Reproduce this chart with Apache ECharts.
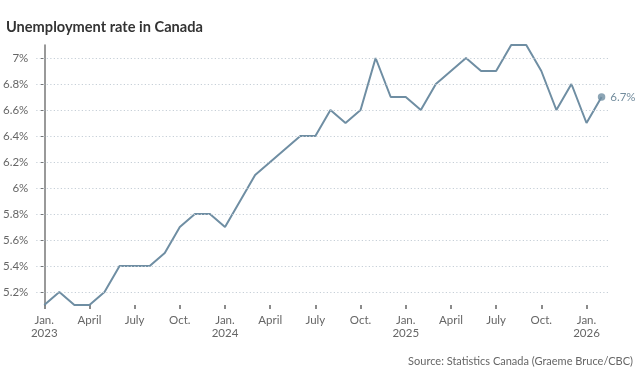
<!DOCTYPE html>
<html><head><meta charset="utf-8">
<script src="https://cdn.jsdelivr.net/npm/echarts@6/dist/echarts.min.js"></script>
<style>html,body{margin:0;padding:0;background:#fff}#c{width:640px;height:372px}</style>
</head><body><div id="c"></div>
<script>
const months = ["2023-01","2023-02","2023-03","2023-04","2023-05","2023-06","2023-07","2023-08","2023-09","2023-10","2023-11","2023-12",
"2024-01","2024-02","2024-03","2024-04","2024-05","2024-06","2024-07","2024-08","2024-09","2024-10","2024-11","2024-12",
"2025-01","2025-02","2025-03","2025-04","2025-05","2025-06","2025-07","2025-08","2025-09","2025-10","2025-11","2025-12",
"2026-01","2026-02"];
const rates = [5.1,5.2,5.1,5.1,5.2,5.4,5.4,5.4,5.5,5.7,5.8,5.8,
5.7,5.9,6.1,6.2,6.3,6.4,6.4,6.6,6.5,6.6,7.0,6.7,
6.7,6.6,6.8,6.9,7.0,6.9,6.9,7.1,7.1,6.9,6.6,6.8,
6.5,6.7];
const xTickIdx = [0,3,6,9,12,15,18,21,24,27,30,33,36];
const xTickLabels = ["Jan.\n2023","April","July","Oct.","Jan.\n2024","April","July","Oct.","Jan.\n2025","April","July","Oct.","Jan.\n2026"];
const yTicks = [5.2,5.4,5.6,5.8,6.0,6.2,6.4,6.6,6.8,7.0];
const yTickLabels = ["5.2%","5.4%","5.6%","5.8%","6%","6.2%","6.4%","6.6%","6.8%","7%"];
const title = "Unemployment rate in Canada";
const source = "Source: Statistics Canada (Graeme Bruce/CBC)";

const font = "Lato, 'Open Sans', sans-serif";
const chart = echarts.init(document.getElementById('c'), null, {renderer:'canvas'});
const seriesData = rates.map((v,i)=>[i,v]);
const last = seriesData.length-1;
chart.setOption({
  animation:false,
  title:{text:title,left:1,top:15,textStyle:{fontFamily:font,fontSize:14.6,fontWeight:'bold',color:'#333'}},
  graphic:[{type:'text',right:7,top:356,style:{text:source,fontFamily:font,fontSize:11,fill:'#666',textAlign:'right'}}],
  grid:{left:36,right:30,top:45,bottom:67},
  xAxis:{type:'value',min:-0.53,max:37.56,
    axisLine:{show:false},
    splitLine:{show:false},
    axisTick:{show:true,length:4,customValues:xTickIdx,lineStyle:{color:'#666',width:1.5}},
    axisLabel:{customValues:xTickIdx,margin:9,lineHeight:13,fontFamily:font,fontSize:11.5,color:'#666',
      formatter:(v)=>{const k=xTickIdx.indexOf(Math.round(v));return k>=0?xTickLabels[k]:'';}}
  },
  yAxis:{type:'value',min:5.1,max:7.1,
    axisLine:{show:true,lineStyle:{color:'#777',width:1.5}},
    axisTick:{show:true,length:4,customValues:yTicks,lineStyle:{color:'#777'}},
    axisLabel:{customValues:yTicks,margin:8,fontFamily:font,fontSize:11.5,color:'#666',
      formatter:(v)=>{let k=-1;yTicks.forEach((t,i)=>{if(Math.abs(t-v)<1e-6)k=i;});return k>=0?yTickLabels[k]:'';}},
    splitLine:{show:false}
  },
  series:[{type:'line',data:seriesData,symbol:'none',
    lineStyle:{color:'#6f8ea3',width:2},
    markLine:{silent:true,symbol:'none',label:{show:false},
      lineStyle:{color:'#c5ced6',type:[1.2,2.3],width:1},
      data:yTicks.map(t=>({yAxis:t}))},
    z:3
  },{type:'scatter',data:[seriesData[last]],symbolSize:7.5,itemStyle:{color:'#6f8ea3'},
    label:{show:true,position:'right',distance:5,formatter:(p)=>p.value[1].toFixed(1)+'%',
      fontFamily:font,fontSize:11.5,color:'#4f6f85'},z:4}]
});
</script></body></html>
